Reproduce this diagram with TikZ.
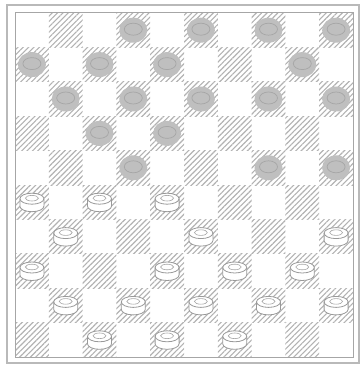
\documentclass[tikz,border=0pt]{standalone}
\usepackage{tikz}
\usetikzlibrary{patterns.meta}

\tikzset{
  darksq/.style={pattern={Lines[angle=45,distance=3.8pt,line width=1.1pt]},pattern color=gray!60},
  bpiece/.pic={
    \fill[gray!50] (0pt,0pt) ellipse[x radius=14pt,y radius=12.5pt];
    \draw[gray!70,line width=0.7pt] (0pt,1pt) ellipse[x radius=9pt,y radius=6pt];
  },
  wpiece/.pic={
    \filldraw[fill=white,draw=gray!80,line width=0.8pt]
      (-12pt,3.5pt) -- (-12pt,-4pt) arc[start angle=180,end angle=360,x radius=12pt,y radius=5.5pt]
      -- (12pt,3.5pt) arc[start angle=0,end angle=180,x radius=12pt,y radius=5.5pt] -- cycle;
    \draw[gray!80,line width=0.8pt] (-12pt,3.5pt) arc[start angle=180,end angle=360,x radius=12pt,y radius=5.5pt];
    \draw[gray!70,line width=0.6pt] (0pt,4pt) ellipse[x radius=6.5pt,y radius=2.8pt];
  }
}

\begin{document}
\begin{tikzpicture}[x=1pt,y=-1pt]
\useasboundingbox (0,0) rectangle (362,366);

% frame
\draw[gray!55,line width=2pt] (7,5) rectangle (359,363);

\begin{scope}[shift={(15,13)},x=33.8pt,y=-34.4pt]
% squares
\foreach \r in {0,...,9}
  \foreach \c in {0,2,...,8} {
    \pgfmathtruncatemacro\cc{\c+1-mod(\r,2)}
    \fill[darksq] (\cc,\r) rectangle ++(1,1);
  }
\draw[gray!70,line width=1pt] (0,0) rectangle (10,10);

% black men
\foreach \c/\r in {3/0,5/0,7/0,9/0,0/1,2/1,4/1,8/1,1/2,3/2,5/2,7/2,9/2,2/3,4/3,3/4,7/4,9/4}
  \pic at (\c+0.5,\r+0.5) {bpiece};

% white men
\foreach \c/\r in {0/5,2/5,4/5,1/6,5/6,9/6,0/7,4/7,6/7,8/7,1/8,3/8,5/8,7/8,9/8,2/9,4/9,6/9}
  \pic at (\c+0.5,\r+0.5) {wpiece};
\end{scope}
\end{tikzpicture}
\end{document}
